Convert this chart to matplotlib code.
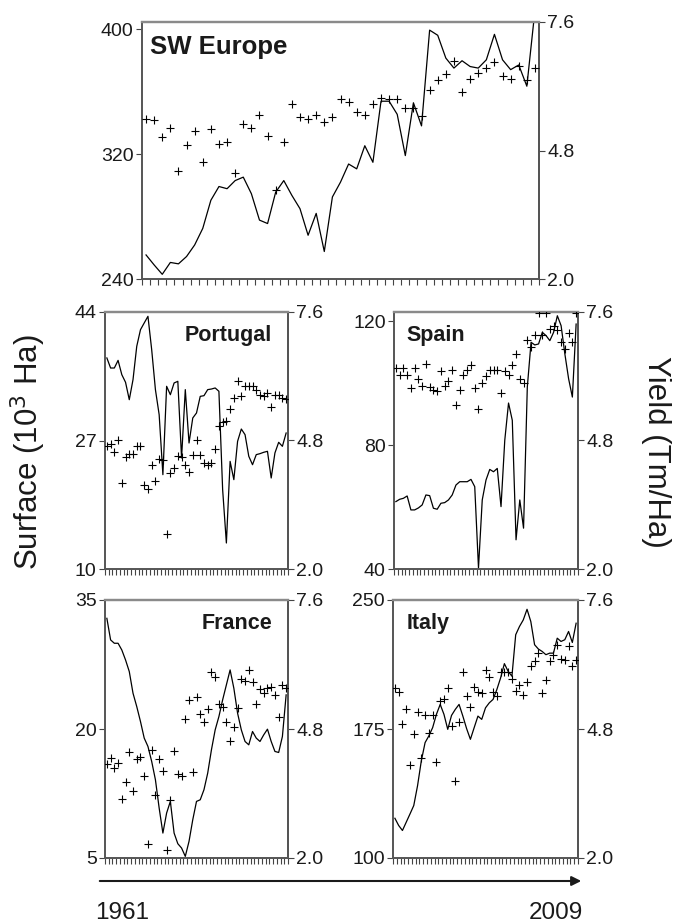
import matplotlib
matplotlib.use("Agg")
import matplotlib.pyplot as plt
import numpy as np

plt.rcParams['font.family'] = ['Liberation Sans', 'DejaVu Sans']

years = list(range(1961, 2010))

# ---- data: surface (10^3 Ha, left axis, line) and yield (Tm/Ha, right axis, crosses)
sw_surface = [255.4, 249.0, 243.0, 250.6, 249.7, 254.4, 261.8, 272.4, 290.4, 299.2,
              297.8, 303.0, 305.2, 294.6, 277.7, 275.5, 295.6, 303.0, 293.5, 285.0,
              268.0, 282.0, 257.6, 292.5, 302.0, 313.6, 310.5, 325.3, 314.7, 353.8,
              353.8, 345.4, 319.0, 352.8, 338.0, 399.3, 396.0, 381.4, 375.0, 379.7,
              376.0, 375.0, 380.3, 396.6, 380.3, 374.0, 377.0, 363.4, 412.0]
sw_yield = [5.48, 5.46, 5.10, 5.28, 4.36, 4.92, 5.22, 4.54, 5.27, 4.94,
            4.99, 4.30, 5.38, 5.30, 5.57, 5.12, 3.93, 4.99, 5.81, 5.52,
            5.48, 5.57, 5.43, 5.53, 5.93, 5.86, 5.63, 5.57, 5.81, 5.95,
            5.93, 5.93, 5.72, 5.72, 5.55, 6.12, 6.33, 6.46, 6.75, 6.08,
            6.36, 6.49, 6.59, 6.72, 6.42, 6.36, 6.65, 6.33, 6.59]

pt_surface = [37.92, 36.59, 36.59, 37.60, 35.71, 34.70, 32.40, 35.05, 39.46, 41.66,
              42.55, 43.43, 39.02, 33.73, 30.42, 22.48, 34.17, 33.06, 34.61, 34.83,
              24.69, 33.73, 26.67, 29.98, 30.64, 32.84, 32.93, 33.73, 33.81, 33.95,
              33.51, 20.50, 13.44, 24.24, 21.82, 26.89, 28.52, 27.77, 24.91, 23.80,
              25.13, 25.26, 25.44, 25.57, 22.04, 25.35, 26.76, 26.23, 27.99]
pt_yield = [4.67, 4.73, 4.54, 4.80, 3.87, 4.45, 4.51, 4.51, 4.67, 4.67,
            3.82, 3.75, 4.27, 3.91, 4.40, 4.37, 2.77, 4.09, 4.19, 4.47,
            4.45, 4.26, 4.11, 4.48, 4.82, 4.48, 4.32, 4.27, 4.30, 4.62,
            5.11, 5.20, 5.23, 5.49, 5.73, 6.10, 5.76, 5.99, 5.99, 5.99,
            5.89, 5.80, 5.76, 5.83, 5.54, 5.80, 5.80, 5.73, 5.71]

es_surface = [61.76, 62.51, 62.83, 63.58, 59.08, 59.08, 59.72, 60.69, 63.91, 63.69,
              59.62, 59.30, 61.23, 61.44, 62.30, 63.91, 67.12, 68.19, 68.19, 68.19,
              68.94, 66.59, 40.32, 62.30, 68.73, 72.16, 71.41, 72.48, 60.15, 81.59,
              93.60, 88.03, 49.43, 62.30, 53.19, 98.75, 113.22, 112.36, 112.68, 116.43,
              115.36, 113.75, 116.43, 121.79, 118.58, 109.47, 101.43, 95.53, 119.11]
es_yield = [6.38, 6.22, 6.38, 6.22, 5.94, 6.38, 6.13, 5.99, 6.47, 5.97,
            5.91, 5.87, 6.31, 5.99, 6.09, 6.34, 5.58, 5.89, 6.22, 6.34,
            6.45, 5.94, 5.49, 6.05, 6.20, 6.33, 6.34, 6.34, 5.83, 6.32,
            6.22, 6.44, 6.68, 6.13, 6.05, 7.00, 6.83, 7.09, 7.58, 7.09,
            7.58, 7.24, 7.29, 7.21, 6.94, 6.80, 7.14, 6.94, 7.58]

fr_surface = [32.87, 30.36, 29.97, 29.97, 29.19, 28.03, 26.68, 24.16, 22.61, 20.87,
              18.94, 17.97, 16.23, 14.10, 10.81, 7.90, 10.23, 11.58, 7.90, 6.66,
              6.16, 5.19, 6.94, 9.45, 11.58, 11.77, 12.94, 14.87, 17.58, 19.90,
              21.45, 23.39, 25.13, 26.87, 24.74, 21.84, 19.90, 18.55, 18.16, 19.71,
              18.94, 18.55, 19.32, 19.98, 18.55, 17.39, 17.27, 19.13, 23.97]
fr_yield = [4.04, 4.18, 3.95, 4.06, 3.28, 3.65, 4.29, 3.46, 4.15, 4.20,
            3.78, 2.31, 4.35, 3.37, 4.15, 3.88, 2.17, 3.25, 4.33, 3.83,
            3.77, 5.01, 5.42, 3.86, 5.49, 5.12, 4.96, 5.23, 6.04, 5.92,
            5.35, 5.27, 4.96, 4.54, 4.84, 5.25, 5.88, 5.84, 6.07, 5.83,
            5.35, 5.67, 5.59, 5.69, 5.71, 5.53, 5.07, 5.76, 5.70]

it_surface = [123.1, 118.9, 116.0, 120.8, 125.6, 130.5, 142.0, 156.5, 167.1, 171.0,
              175.8, 183.5, 189.3, 183.5, 174.8, 182.9, 186.4, 189.3, 182.5, 175.2,
              169.0, 175.8, 182.5, 180.6, 187.3, 190.2, 192.2, 197.9, 204.7, 213.0,
              208.5, 205.7, 229.8, 234.6, 238.4, 244.6, 237.5, 224.0, 221.5, 220.1,
              218.2, 219.1, 219.1, 227.8, 225.9, 226.9, 231.7, 225.3, 236.5]
it_yield = [5.68, 5.61, 4.90, 5.24, 4.02, 4.70, 5.17, 4.18, 5.10, 4.71,
            5.10, 4.09, 5.40, 5.46, 5.68, 4.86, 3.68, 4.96, 6.03, 5.51,
            5.28, 5.71, 5.60, 5.58, 6.07, 5.93, 5.60, 5.51, 6.03, 6.03,
            6.03, 5.89, 5.63, 5.76, 5.53, 5.81, 6.17, 6.27, 6.46, 5.58,
            5.87, 6.27, 6.41, 6.63, 6.32, 6.29, 6.61, 6.17, 6.29]

names = ["SW Europe", "Portugal", "Spain", "France", "Italy"]
surfaces = [sw_surface, pt_surface, es_surface, fr_surface, it_surface]
yields = [sw_yield, pt_yield, es_yield, fr_yield, it_yield]
left_ticks = [[240, 320, 400], [10, 27, 44], [40, 80, 120], [5, 20, 35], [100, 175, 250]]
left_lims = [(240, 404.5), (10, 44), (40, 123.0), (5, 35), (100, 250)]
right_ticks = [2.0, 4.8, 7.6]
right_labels = ["2.0", "4.8", "7.6"]

W, H = 675, 924
fig = plt.figure(figsize=(W / 100, H / 100), dpi=100)

# axes boxes in pixels: left, top, right, bottom
boxes = [(142, 22, 539, 279), (105, 312, 288, 569), (394, 312, 578, 569),
         (105, 600, 288, 858), (393, 600, 578, 858)]
title_pos = [(0.02, 0.95, 'left', 18.5), (0.91, 0.95, 'right', 15.5),
             (0.07, 0.95, 'left', 15.5), (0.915, 0.95, 'right', 15.5),
             (0.076, 0.95, 'left', 15.5)]

x = np.arange(len(years))
spine_dark = '#555555'
spine_light = '#8a8a8a'

for k in range(5):
    l, t, r, b = boxes[k]
    ax = fig.add_axes([l / W, 1 - b / H, (r - l) / W, (b - t) / H])
    ax2 = ax.twinx()
    ax.plot(x, surfaces[k], color='black', lw=0.9, zorder=3)
    ax2.plot(x, yields[k], linestyle='none', marker='+', ms=5.5, mew=0.8,
             color='black', zorder=3)
    ax.set_xlim(-0.5, len(years) - 0.5)
    ax.set_ylim(*left_lims[k])
    ax2.set_ylim(2.0, 7.6)
    ax.set_yticks(left_ticks[k])
    ax.set_yticklabels([str(v) for v in left_ticks[k]])
    ax2.set_yticks(right_ticks)
    ax2.set_yticklabels(right_labels)
    ax.set_xticks(np.arange(-0.5, len(years), 1.0))
    ax.set_xticklabels([])
    ax.tick_params(axis='x', direction='out', length=4, width=0.8, colors='#444444')
    ax.tick_params(axis='y', direction='out', length=4, width=0.8, colors='#444444',
                   labelsize=14, labelcolor='#1a1a1a', pad=2)
    ax2.tick_params(axis='y', direction='out', length=4, width=0.8, colors='#444444',
                    labelsize=14, labelcolor='#1a1a1a', pad=2)
    for a in (ax, ax2):
        a.spines['top'].set_color(spine_light)
        a.spines['top'].set_linewidth(1.6)
        a.spines['left'].set_color(spine_dark)
        a.spines['left'].set_linewidth(1.2)
        a.spines['right'].set_color(spine_dark)
        a.spines['right'].set_linewidth(1.4)
        a.spines['bottom'].set_color(spine_dark)
        a.spines['bottom'].set_linewidth(1.2)
    tx, ty, ha, fs = title_pos[k]
    ax.text(tx, ty, names[k], transform=ax.transAxes, ha=ha, va='top',
            fontsize=fs, fontweight='bold', color='#1a1a1a', zorder=5)

fig.text(28 / W, 1 - 452 / H, "Surface (10$^3$ Ha)", rotation=90, ha='center',
         va='center', fontsize=22.5, color='#1a1a1a')
fig.text(656 / W, 1 - 452 / H, "Yield (Tm/Ha)", rotation=270, ha='center',
         va='center', fontsize=22.5, color='#1a1a1a')

fig.add_artist(matplotlib.patches.FancyArrowPatch(
    (97 / W, 1 - 881 / H), (584 / W, 1 - 881 / H), transform=fig.transFigure,
    arrowstyle='-|>', mutation_scale=14, lw=1.5, color='#1a1a1a'))
fig.text(95 / W, 1 - 919 / H, str(years[0]), ha='left', va='baseline',
         fontsize=17.5, color='#1a1a1a')
fig.text(583 / W, 1 - 919 / H, str(years[-1]), ha='right', va='baseline',
         fontsize=17.5, color='#1a1a1a')

fig.savefig("out.png", dpi=100)
